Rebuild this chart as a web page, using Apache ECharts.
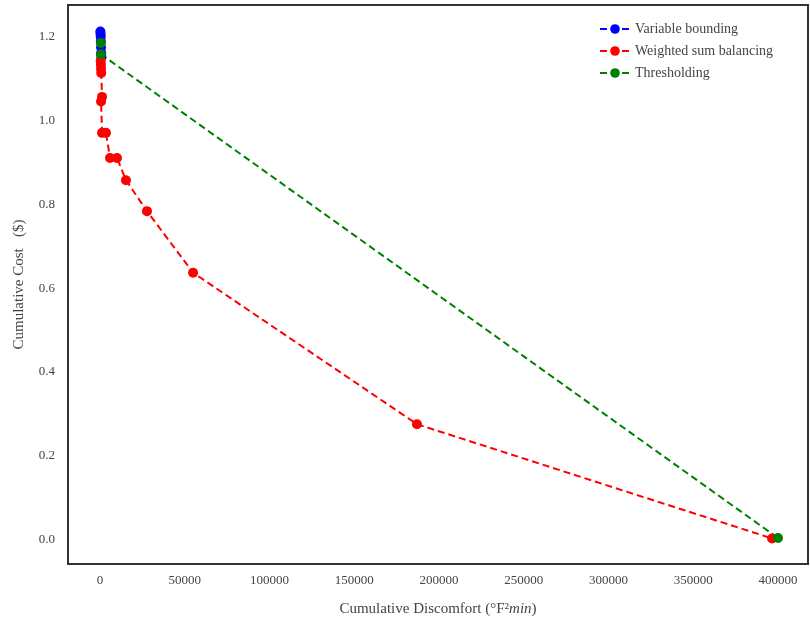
<!DOCTYPE html>
<html>
<head>
<meta charset="utf-8">
<script src="https://cdn.jsdelivr.net/npm/echarts@6/dist/echarts.min.js"></script>
<style>html,body{margin:0;padding:0;background:#fff;}#c{width:810px;height:623px;}</style>
</head>
<body>
<div id="c"></div>
<script>
const xTicks = [0, 50000, 100000, 150000, 200000, 250000, 300000, 350000, 400000];
const yTicks = [0, 0.2, 0.4, 0.6, 0.8, 1.0, 1.2];

const boundingX = [200, 300, 400, 500, 600, 700, 800];
const boundingY = [1.213, 1.208, 1.201, 1.190, 1.175, 1.162, 1.152];

const weightedX = [400, 500, 600, 700, 1200, 600, 1200, 3500, 5900, 10000, 15300, 27700, 54900, 187000, 396500];
const weightedY = [1.143, 1.134, 1.124, 1.114, 1.057, 1.046, 0.971, 0.971, 0.911, 0.911, 0.858, 0.784, 0.637, 0.275, 0.002];

const threshX = [500, 500, 400000];
const threshY = [1.186, 1.159, 0.003];

const names = ['Variable bounding', 'Weighted sum balancing', 'Thresholding'];
const colors = ['#0000ff', '#ff0000', '#008000'];

function pts(xs, ys) { return xs.map((x, i) => [x, ys[i]]); }
const font = 'Liberation Serif';

function mkSeries(name, color, data) {
  return {
    name, type: 'line', data,
    symbol: 'circle', symbolSize: 10,
    itemStyle: { color },
    lineStyle: { color, width: 2, type: [7, 4] },
    animation: false
  };
}

const chart = echarts.init(document.getElementById('c'), null, { renderer: 'canvas' });
chart.setOption({
  backgroundColor: '#fff',
  animation: false,
  grid: { left: 68, right: 2, top: 5, bottom: 59, show: true, borderColor: '#333', borderWidth: 2, backgroundColor: '#fff' },
  legend: {
    orient: 'vertical', left: 594, top: 17, itemGap: 8, itemWidth: 30, itemHeight: 12,
    data: names,
    textStyle: { fontFamily: font, fontSize: 14, color: '#444' }
  },
  xAxis: {
    type: 'value', min: -18900, max: 417700,
    name: 'Cumulative Discomfort (°F²{i|min})',
    nameLocation: 'middle', nameGap: 38,
    nameTextStyle: { fontFamily: font, fontSize: 15, color: '#444', rich: { i: { fontFamily: font, fontStyle: 'italic', fontSize: 15, color: '#444' } } },
    axisLine: { show: false }, axisTick: { show: false }, splitLine: { show: false },
    axisLabel: { customValues: xTicks, fontFamily: font, fontSize: 13, color: '#444', margin: 10, formatter: v => String(v) }
  },
  yAxis: {
    type: 'value', min: -0.059, max: 1.2765,
    name: 'Cumulative Cost   ($)',
    nameLocation: 'middle', nameGap: 41,
    nameTextStyle: { fontFamily: font, fontSize: 15, color: '#444' },
    axisLine: { show: false }, axisTick: { show: false }, splitLine: { show: false },
    axisLabel: { customValues: yTicks, fontFamily: font, fontSize: 13, color: '#444', margin: 13, formatter: v => v.toFixed(1) }
  },
  series: [
    mkSeries(names[0], colors[0], pts(boundingX, boundingY)),
    mkSeries(names[1], colors[1], pts(weightedX, weightedY)),
    mkSeries(names[2], colors[2], pts(threshX, threshY))
  ]
});
</script>
</body>
</html>
